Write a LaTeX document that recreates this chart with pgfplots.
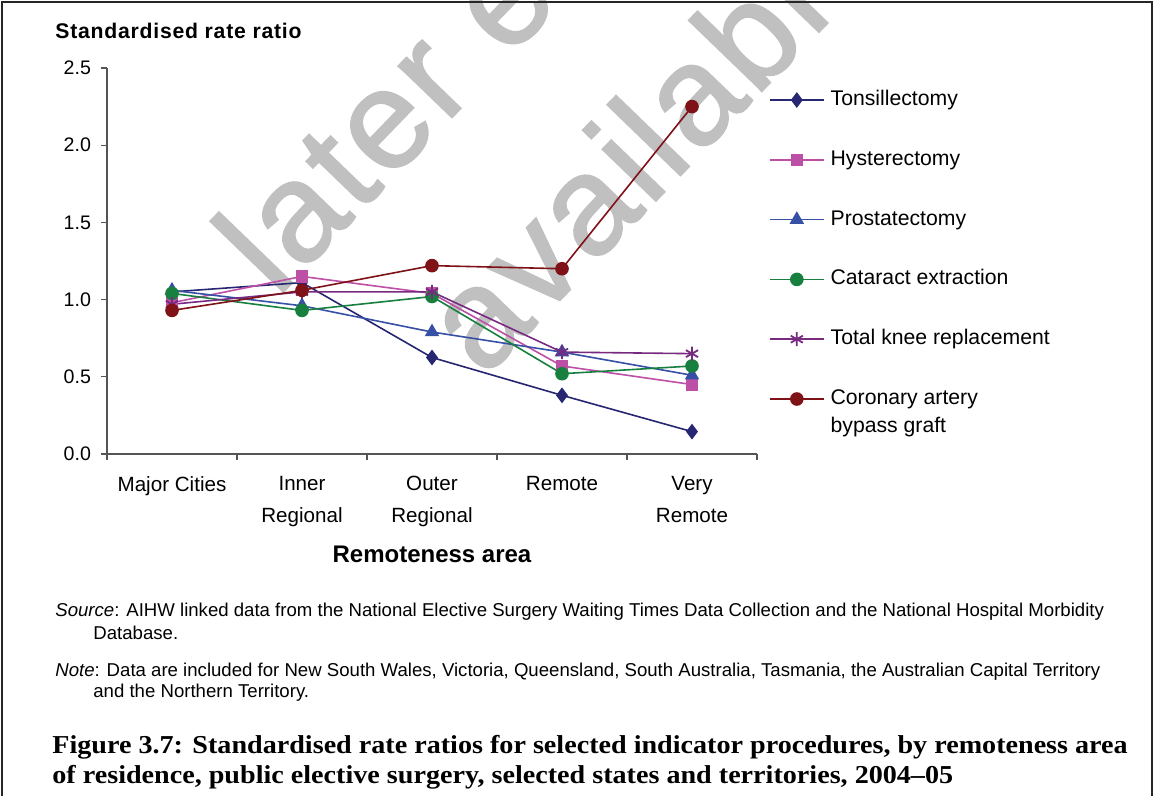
\documentclass[border=0pt]{standalone}
\usepackage{fontspec}
\setmainfont{Liberation Sans}
\newfontfamily\capfont[FakeStretch=1.09, Ligatures=TeX]{Liberation Serif}
\newfontfamily\wmfont[LetterSpace=3, FakeBold=1.5]{Liberation Sans}
\newfontfamily\titfont[LetterSpace=3.6]{Liberation Sans}
\usepackage{pgfplots}
\pgfplotsset{compat=1.18}
\definecolor{cTon}{HTML}{262673}
\definecolor{cHys}{HTML}{BE4FA6}
\definecolor{cPro}{HTML}{3650A5}
\definecolor{cCat}{HTML}{17803F}
\definecolor{cKnee}{HTML}{772A80}
\definecolor{cCab}{HTML}{7F1216}
\definecolor{wm}{HTML}{C0C0C0}
\definecolor{axgray}{HTML}{555555}
\begin{document}
\begin{tikzpicture}
\path[use as bounding box] (0,0) rectangle (577pt,-398pt);
\begin{scope}[x=0.5pt,y=-0.5pt]
  \clip (0,0) rectangle (1154,796);
  \node[rotate=46, anchor=base west, text=wm, inner sep=0pt, font=\wmfont\fontsize{70}{74}\selectfont] at (276.6,298.8) {later edition};
  \node[rotate=46, anchor=base west, text=wm, inner sep=0pt, font=\wmfont\fontsize{70}{74}\selectfont] at (483.7,379) {available};
\end{scope}
\begin{axis}[
  at={(53.5pt,-227pt)}, anchor=south west,
  scale only axis, width=325pt, height=193pt,
  xmin=-0.5, xmax=4.5, ymin=0, ymax=2.5,
  axis x line*=bottom, axis y line*=left,
  axis line style={-, draw=axgray, line width=0.6pt},
  xtick={0,1,2,3,4},
  xticklabels={Major Cities, Inner\\Regional, Outer\\Regional, Remote, Very\\Remote},
  minor xtick={-0.5,0.5,1.5,2.5,3.5,4.5},
  major x tick style={draw=none},
  minor x tick style={draw=axgray, line width=0.6pt},
  ytick={0,0.5,1,1.5,2,2.5},
  y tick style={draw=axgray, line width=0.6pt},
  tick align=outside,
  major tick length=3pt, minor tick length=3pt,
  /pgf/number format/assume math mode=true,
  yticklabel style={/pgf/number format/.cd, fixed, fixed zerofill, precision=1, /tikz/.cd, font=\fontsize{9.8}{12}\selectfont, xshift=-1.5pt},
  xticklabel style={align=center, font=\fontsize{10.3}{16}\selectfont, anchor=north, yshift=-4.5pt},
  xlabel={Remoteness area},
  xlabel style={at={(axis description cs:0.5,-0.259)}, anchor=center, font=\bfseries\fontsize{12}{14}\selectfont},
  clip=false,
  legend style={at={(axis description cs:1.0185,0.943)}, anchor=north west, draw=none, fill=none, inner sep=0pt, outer sep=0pt, row sep=19.9pt,
    font=\fontsize{10.6}{14}\selectfont, nodes={inner sep=0pt, text height=7.7pt, text depth=2.3pt}, cells={anchor=west}},
  legend cell align=left,
  legend image code/.code={\draw[mark repeat=2,mark phase=2] plot coordinates {(0pt,0pt) (13.5pt,0pt) (27pt,0pt)};\path (30pt,0pt);},
]
\addplot[cTon, line width=0.8pt, mark=diamond*, mark size=3.3pt, mark options={solid, fill=cTon}] coordinates {(0,1.05)(1,1.11)(2,0.625)(3,0.38)(4,0.145)};
\addlegendentry{Tonsillectomy}
\addplot[cHys, line width=0.8pt, mark=square*, mark size=2.7pt, mark options={solid, fill=cHys}] coordinates {(0,0.98)(1,1.15)(2,1.04)(3,0.57)(4,0.45)};
\addlegendentry{Hysterectomy}
\addplot[cPro, line width=0.8pt, mark=triangle*, mark size=3.4pt, mark options={solid, fill=cPro}] coordinates {(0,1.06)(1,0.96)(2,0.79)(3,0.66)(4,0.51)};
\addlegendentry{Prostatectomy}
\addplot[cCat, line width=0.8pt, mark=*, mark size=3pt, mark options={solid, fill=cCat}] coordinates {(0,1.04)(1,0.93)(2,1.02)(3,0.52)(4,0.57)};
\addlegendentry{Cataract extraction}
\addplot[cKnee, line width=0.8pt, mark=asterisk, mark size=3.5pt, mark options={solid, line width=0.9pt}] coordinates {(0,0.97)(1,1.05)(2,1.05)(3,0.66)(4,0.65)};
\addlegendentry{Total knee replacement}
\addplot[cCab, line width=0.8pt, mark=*, mark size=3pt, mark options={solid, fill=cCab}] coordinates {(0,0.93)(1,1.06)(2,1.22)(3,1.20)(4,2.25)};
\addlegendentry{\begin{tabular}[t]{@{}l@{}}Coronary artery\\bypass graft\end{tabular}}
\end{axis}
\begin{scope}[x=0.5pt,y=-0.5pt]
  \draw[line width=0.7pt, black!85] (2,796) -- (2,2) -- (1152,2) -- (1152,796);
  \node[anchor=base west, inner sep=0pt, font=\titfont\bfseries\fontsize{10.6}{12}\selectfont] at (55,39) {Standardised rate ratio};
  \node[anchor=base west, inner sep=0pt, font=\fontsize{9.3}{11}\selectfont] at (55,616) {\textit{Source}: AIHW linked data from the National Elective Surgery Waiting Times Data Collection and the National Hospital Morbidity};
  \node[anchor=base west, inner sep=0pt, font=\fontsize{9.3}{11}\selectfont] at (93,639) {Database.};
  \node[anchor=base west, inner sep=0pt, font=\fontsize{9.3}{11}\selectfont] at (55,676) {\textit{Note}: Data are included for New South Wales, Victoria, Queensland, South Australia, Tasmania, the Australian Capital Territory};
  \node[anchor=base west, inner sep=0pt, font=\fontsize{9.3}{11}\selectfont] at (93,697) {and the Northern Territory.};
  \node[anchor=base west, inner sep=0pt, font=\capfont\bfseries\fontsize{12.9}{15}\selectfont] at (52,753) {Figure 3.7: Standardised rate ratios for selected indicator procedures, by remoteness area};
  \node[anchor=base west, inner sep=0pt, font=\capfont\bfseries\fontsize{12.9}{15}\selectfont] at (52,783) {of residence, public elective surgery, selected states and territories, 2004\textendash 05};
\end{scope}
\end{tikzpicture}
\end{document}
